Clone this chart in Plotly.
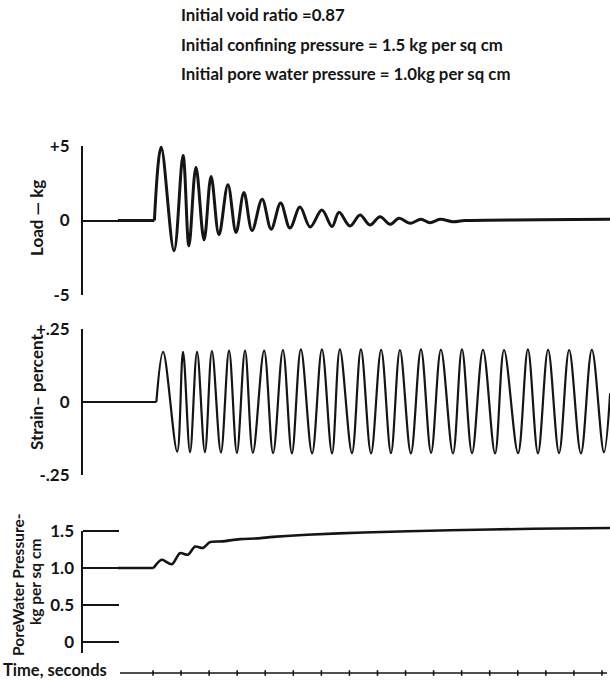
import plotly.graph_objects as go

# ---------------- data (time in seconds) ----------------
load_t = [-1.25, 0.05, 0.29, 0.75, 1.07, 1.28, 1.53, 1.82, 2.07, 2.35, 2.67, 2.96, 3.24, 3.53,
          3.89, 4.21, 4.55, 4.88, 5.24, 5.60, 6.02, 6.38, 6.63, 7.02, 7.38, 7.73, 8.09, 8.45,
          8.77, 9.16, 9.55, 9.87, 10.23, 10.69, 11.12, 13.79, 16.29]
load_v = [0.0, 0.0, 4.93, -2.03, 4.36, -1.70, 3.58, -1.30, 2.95, -0.96, 2.40, -0.80, 1.88, -0.67,
          1.43, -0.58, 1.17, -0.51, 0.90, -0.44, 0.70, -0.41, 0.55, -0.37, 0.37, -0.30, 0.25, -0.26,
          0.15, -0.19, 0.08, -0.15, 0.08, -0.08, 0.0, 0.05, 0.09]

strain_peak_t = [0.36, 1.07, 1.57, 2.10, 2.71, 3.28, 3.96, 4.63, 5.27, 6.02, 6.66, 7.41, 8.13,
                 8.80, 9.55, 10.26, 11.01, 11.76, 12.51, 13.36, 14.08, 14.83, 15.64]
strain_peak_v = [0.172, 0.172, 0.172, 0.174, 0.176, 0.176, 0.176, 0.178, 0.180, 0.180, 0.180,
                 0.180, 0.179, 0.178, 0.180, 0.179, 0.180, 0.179, 0.178, 0.180, 0.179, 0.178, 0.179]
strain_trough_t = [0.86, 1.32, 1.85, 2.42, 2.99, 3.56, 4.28, 4.95, 5.67, 6.38, 7.09, 7.77, 8.48,
                   9.19, 9.91, 10.69, 11.37, 12.19, 13.01, 13.72, 14.47, 15.25, 16.07]
strain_trough_v = [-0.170, -0.172, -0.172, -0.173, -0.174, -0.174, -0.175, -0.176, -0.176,
                   -0.176, -0.175, -0.176, -0.175, -0.176, -0.174, -0.176, -0.175, -0.176,
                   -0.175, -0.176, -0.175, -0.176, -0.172]
strain_start_t = [-1.25, 0.12]
strain_start_v = [0.0, 0.0]
strain_end_t = [16.29]
strain_end_v = [0.03]

pore_t = [-1.25, 0.02, 0.31, 0.67, 0.96, 1.25, 1.50, 1.78, 2.03, 2.46, 3.10, 3.71, 4.28, 5.49,
          7.50, 10.58, 13.54, 16.29]
pore_v = [1.0, 1.0, 1.11, 1.05, 1.20, 1.18, 1.29, 1.27, 1.35, 1.36, 1.39, 1.40, 1.42, 1.45,
          1.48, 1.51, 1.53, 1.54]

time_ticks = list(range(0, 17))

load_tickvals = [-5, 0, 5]
load_ticktext = ["-5", "0", "+5"]
strain_tickvals = [-0.25, 0, 0.25]
strain_ticktext = ["-.25", "0", "+.25"]
pore_tickvals = [0, 0.5, 1.0, 1.5]
pore_ticktext = ["0", "0.5", "1.0", "1.5"]
pore_axis_span = [-0.15, 1.5]

header_lines = ["Initial void ratio =0.87",
                "Initial confining pressure = 1.5 kg per sq cm",
                "Initial pore water pressure = 1.0kg per sq cm"]

# ---------------- layout helpers ----------------
W, H = 610, 681
X0_PX, PX_PER_S = 153.0, 28.06


def t_px(px):
    return (px - X0_PX) / PX_PER_S


def py(px):
    return 1 - px / H


def px_x(px):
    return px / W


FONT = "Lato"
INK = "#151515"
AXIS_X = px_x(82)
TIME_L, TIME_R, TIME_Y = 120, 607, 673

strain_pts = sorted(zip(strain_start_t + strain_peak_t + strain_trough_t + strain_end_t,
                        strain_start_v + strain_peak_v + strain_trough_v + strain_end_v))
strain_t = [p[0] for p in strain_pts]
strain_v = [p[1] for p in strain_pts]

# pore panel: axis line spans 531..653 px (1.5 .. -0.15); the plot area is taller so the
# curve (which rises above 1.5) is not clipped
PORE_TOP, PORE_BOT, PORE_TOP_EXT = 531, 653, 505
pore_scale = (PORE_BOT - PORE_TOP) / (pore_axis_span[1] - pore_axis_span[0])
pore_range = [pore_axis_span[0], pore_axis_span[0] + (PORE_BOT - PORE_TOP_EXT) / pore_scale]

fig = go.Figure()


def add_curve(t, v, yaxis, width, smoothing):
    # flat lead-in drawn straight, then the oscillating part as a spline
    fig.add_trace(go.Scatter(x=t[:2], y=v[:2], xaxis="x", yaxis=yaxis, mode="lines",
                             line=dict(color=INK, width=width), hoverinfo="skip"))
    fig.add_trace(go.Scatter(x=t[1:], y=v[1:], xaxis="x", yaxis=yaxis, mode="lines",
                             line=dict(color=INK, width=width, shape="spline",
                                       smoothing=smoothing), hoverinfo="skip"))


add_curve(load_t, load_v, "y", 3, 1.0)
add_curve(strain_t, strain_v, "y2", 2.2, 1.0)
add_curve(pore_t, pore_v, "y3", 2.6, 0.8)

# time axis tick marks (centred on the time line)
fig.add_trace(go.Scatter(x=time_ticks, y=[0] * len(time_ticks), xaxis="x2", yaxis="y4",
                         mode="markers", marker=dict(symbol="line-ns-open", size=4, color=INK,
                                                     line=dict(color=INK, width=1.6)),
                         cliponaxis=False, hoverinfo="skip"))

yax_common = dict(anchor="free", position=AXIS_X, side="left", showline=True,
                  linecolor=INK, linewidth=2, ticks="inside", ticklen=36, tickwidth=2,
                  tickcolor=INK, showgrid=False, zeroline=False, ticklabelstandoff=8,
                  tickfont=dict(family=FONT, size=17, color=INK, weight="bold"),
                  fixedrange=True, automargin=False)

fig.update_layout(
    width=W, height=H, autosize=False,
    margin=dict(l=0, r=0, t=0, b=0, pad=0, autoexpand=False),
    paper_bgcolor="white", plot_bgcolor="white", showlegend=False,
    xaxis=dict(domain=[0, 1], range=[t_px(0), t_px(W)], visible=False, fixedrange=True,
               automargin=False),
    xaxis2=dict(domain=[px_x(TIME_L), px_x(TIME_R)], range=[t_px(TIME_L), t_px(TIME_R)],
                anchor="y4", visible=False, fixedrange=True, automargin=False),
    yaxis=dict(domain=[py(295), py(146)], range=[-5, 5], tickvals=load_tickvals,
               ticktext=load_ticktext, **yax_common),
    yaxis2=dict(domain=[py(475), py(329)], range=[-0.25, 0.25], tickvals=strain_tickvals,
                ticktext=strain_ticktext, **yax_common),
    yaxis3=dict(domain=[py(PORE_BOT), py(PORE_TOP_EXT)], range=pore_range,
                tickvals=pore_tickvals, ticktext=pore_ticktext,
                **{**yax_common, "showline": False}),
    yaxis4=dict(domain=[py(TIME_Y + 5), py(TIME_Y - 5)], range=[-1, 1], anchor="x2",
                visible=False, fixedrange=True, automargin=False),
    shapes=[
        dict(type="line", xref="paper", yref="y3", x0=AXIS_X, x1=AXIS_X,
             y0=pore_axis_span[0], y1=pore_axis_span[1], line=dict(color=INK, width=2)),
        dict(type="line", xref="paper", yref="y4", x0=px_x(TIME_L), x1=px_x(TIME_R),
             y0=0, y1=0, line=dict(color=INK, width=1.6)),
    ],
)

ann_font = dict(family=FONT, size=17, color=INK, weight="bold")
annotations = []
for i, line in enumerate(header_lines):
    annotations.append(dict(text=line, x=px_x(179), y=py(15 + 29.5 * i), xref="paper",
                            yref="paper", xanchor="left", yanchor="middle", showarrow=False,
                            font=dict(family=FONT, size=16.8, color=INK, weight="bold")))
extra = [
    dict(text="Load — kg", x=px_x(36), y=py(218), textangle=-90),
    dict(text="Strain– percent", x=px_x(36), y=py(392), textangle=-90),
    dict(text="PoreWater Pressure-", x=px_x(18), y=py(585), textangle=-90,
         font=dict(family=FONT, size=15.5, color=INK, weight="bold")),
    dict(text="kg per sq cm", x=px_x(35), y=py(582), textangle=-90,
         font=dict(family=FONT, size=15.5, color=INK, weight="bold")),
    dict(text="Time, seconds", x=px_x(1), y=py(669.5), xanchor="left", textangle=0,
         font=dict(family=FONT, size=16.5, color=INK, weight="bold")),
]
for a in extra:
    a.setdefault("xref", "paper")
    a.setdefault("yref", "paper")
    a.setdefault("showarrow", False)
    a.setdefault("xanchor", "center")
    a.setdefault("yanchor", "middle")
    a.setdefault("font", ann_font)
annotations += extra
fig.update_layout(annotations=annotations)

fig.write_html("out.html")
